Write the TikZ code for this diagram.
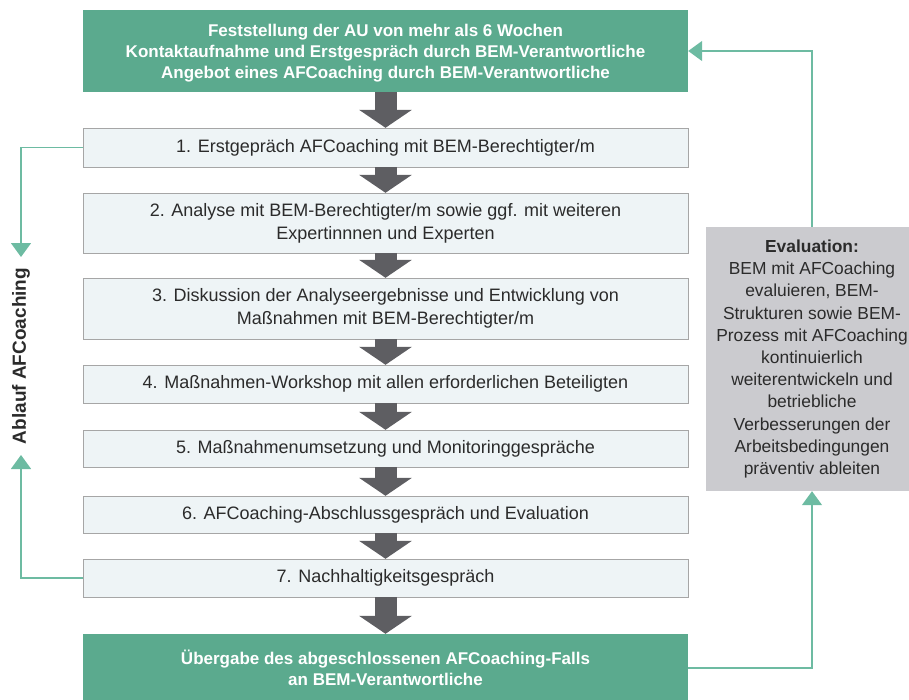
\documentclass[tikz,border=0pt]{standalone}
\usepackage{fontspec}
\setmainfont{Liberation Sans}
\usetikzlibrary{arrows.meta,positioning}
\definecolor{afgreen}{HTML}{5BAA8E}
\definecolor{afline}{HTML}{6DBBA2}
\definecolor{afdark}{HTML}{5E5E62}
\definecolor{afpale}{HTML}{EEF4F6}
\definecolor{afgrey}{HTML}{CBCBCF}
\definecolor{aftext}{HTML}{2B2B2B}
\begin{document}
\begin{tikzpicture}[x=1pt,y=-1pt]
\tikzstyle{green box}=[rectangle,fill=afgreen,text=white,font=\fontsize{17}{21}\selectfont\bfseries,align=center,minimum width=605pt]
\tikzstyle{step box}=[rectangle,draw=gray!70,fill=afpale,text=aftext,font=\fontsize{18}{23}\selectfont,align=center,minimum width=605pt]
\tikzset{
	flow/.style={draw=afdark,line width=22pt,-{Triangle[width=52pt,length=18pt]}},
	loop arrow/.style={draw=afline,line width=1.5pt,-{Triangle[width=20pt,length=14pt]}}
}
\useasboundingbox (0,0) rectangle (909,699);
\node[green box,minimum height=82pt,text depth=-8pt] (start) at (385.5,51) {Feststellung der AU von mehr als 6 Wochen\\Kontaktaufnahme und Erstgespräch durch BEM-Verantwortliche\\Angebot eines AFCoaching durch BEM-Verantwortliche};
\node[step box,minimum height=39pt] (s1) at (385.5,147.5) {1. Erstgepräch AFCoaching mit BEM-Berechtigter/m};
\node[step box,minimum height=60pt] (s2) at (385.5,223) {2. Analyse mit BEM-Berechtigter/m sowie ggf. mit weiteren\\Expertinnnen und Experten};
\node[step box,minimum height=61pt] (s3) at (385.5,308.5) {3. Diskussion der Analyseergebnisse und Entwicklung von\\Maßnahmen mit BEM-Berechtigter/m};
\node[step box,minimum height=38pt] (s4) at (385.5,384) {4. Maßnahmen-Workshop mit allen erforderlichen Beteiligten};
\node[step box,minimum height=37pt] (s5) at (385.5,448.5) {5. Maßnahmenumsetzung und Monitoringgespräche};
\node[step box,minimum height=37pt] (s6) at (385.5,514.5) {6. AFCoaching-Abschlussgespräch und Evaluation};
\node[step box,minimum height=38pt] (s7) at (385.5,578) {7. Nachhaltigkeitsgespräch};
\node[green box,minimum height=68pt] (end) at (385.5,668) {Übergabe des abgeschlossenen AFCoaching-Falls\\an BEM-Verantwortliche};
\node[rectangle,fill=afgrey,text=aftext,font=\fontsize{17.4}{22.2}\selectfont,align=center,minimum width=212pt,minimum height=264pt] (eval) at (812,359) {\textbf{Evaluation:}\\BEM mit AFCoaching\\evaluieren, BEM-\\Strukturen sowie BEM-\\Prozess mit AFCoaching\\kontinuierlich\\weiterentwickeln und\\betriebliche\\Verbesserungen der\\Arbeitsbedingungen\\präventiv ableiten};
\node[rotate=90,text=aftext,font=\fontsize{19}{22}\selectfont\bfseries] (lab) at (21,356) {Ablauf AFCoaching};
\coordinate (ltop) at (21,257);
\coordinate (lbot) at (21,455);
\draw[flow] (start) -- (s1);
\draw[flow] (s1) -- (s2);
\draw[flow] (s2) -- (s3);
\draw[flow] (s3) -- (s4);
\draw[flow] (s4) -- (s5);
\draw[flow] (s5) -- (s6);
\draw[flow] (s6) -- (s7);
\draw[flow] (s7) -- (end);
\draw[loop arrow] (s1.west) -| (ltop);
\draw[loop arrow] (s7.west) -| (lbot);
\draw[loop arrow] (eval.north) |- (start.east);
\draw[loop arrow] (end.east) -| (eval.south);
\end{tikzpicture}
\end{document}
